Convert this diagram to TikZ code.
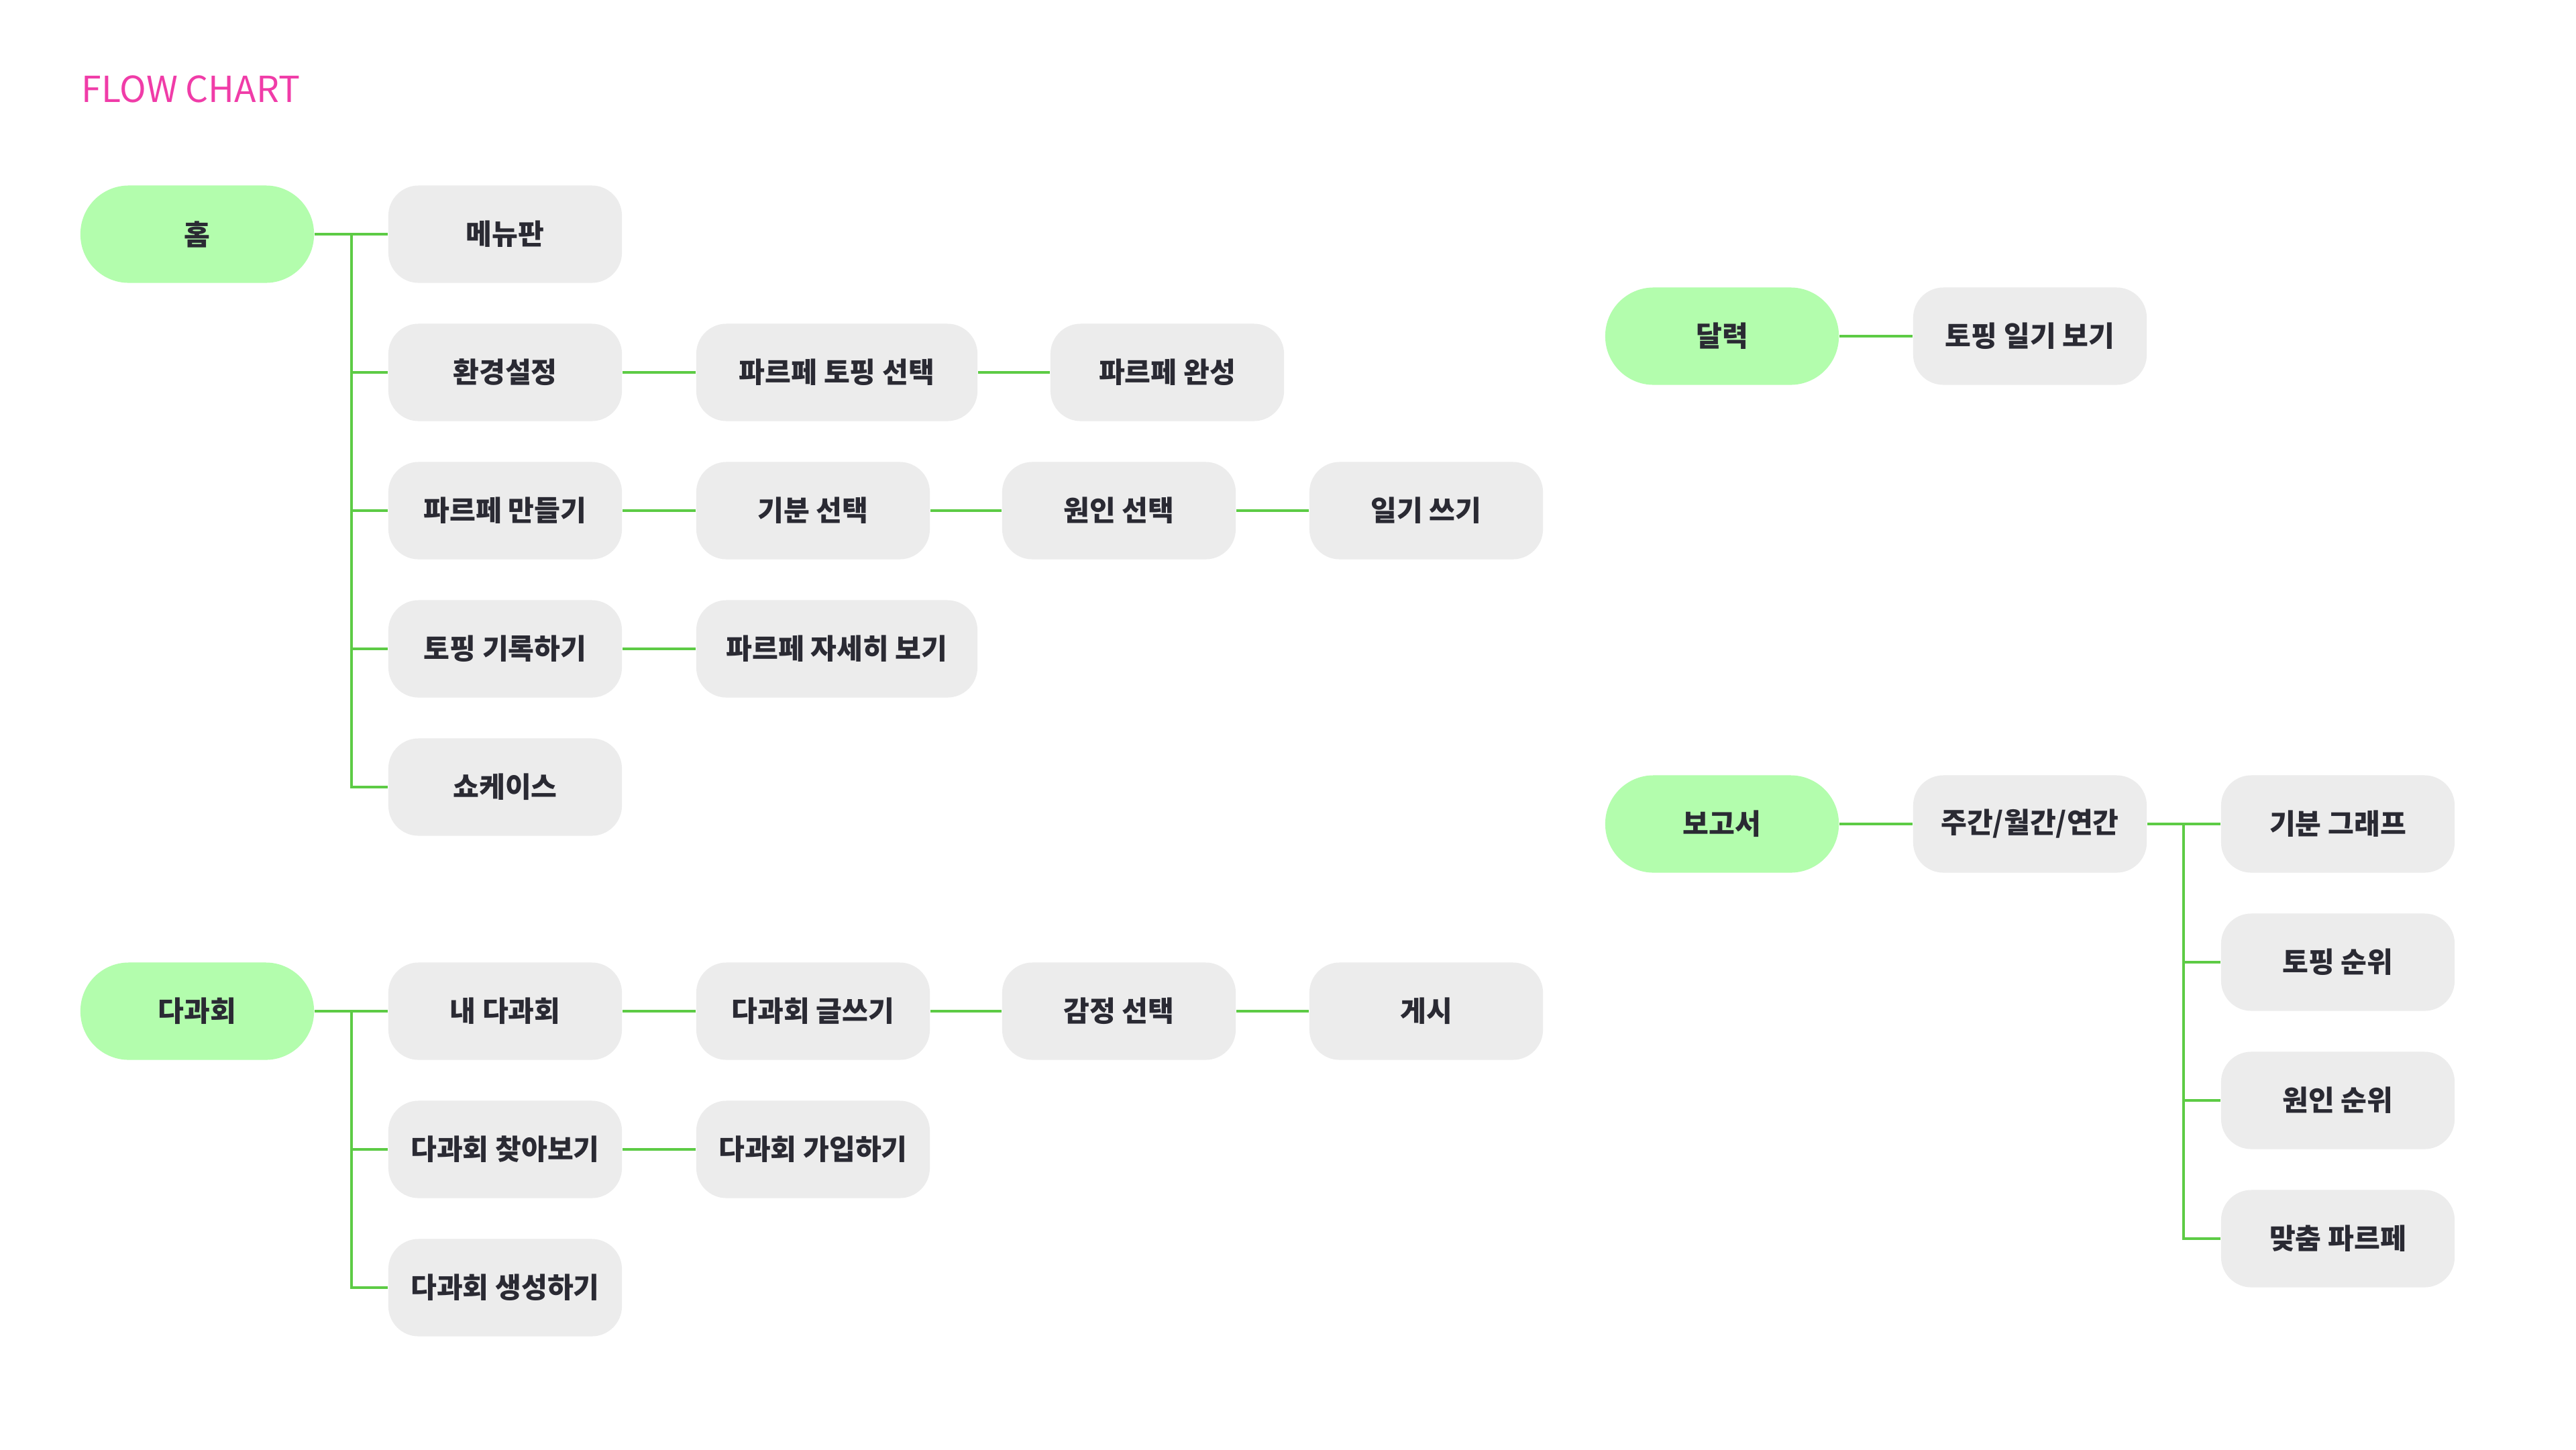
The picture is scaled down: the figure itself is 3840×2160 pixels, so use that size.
\documentclass[tikz,border=0pt]{standalone}
\usepackage{fontspec}
\setmainfont{Noto Sans CJK KR}
\newfontfamily\titlefont{Noto Sans CJK KR}
\definecolor{rootfill}{HTML}{B3FDAD}
\definecolor{leaffill}{HTML}{ECECEC}
\definecolor{linegreen}{HTML}{5DCB45}
\definecolor{textdark}{HTML}{2A2A33}
\definecolor{titlepink}{HTML}{F03CA8}
\tikzset{
  boxbase/.style={minimum width=3.48cm, minimum height=1.45cm, inner sep=0pt,
    text=textdark, font=\fontsize{12}{14}\selectfont\bfseries},
  root/.style={boxbase, fill=rootfill, rounded corners=0.72cm},
  leaf/.style={boxbase, fill=leaffill, rounded corners=0.45cm},
  wide/.style={leaf, minimum width=4.19cm},
  conn/.style={draw=linegreen, line width=0.9pt},
  titlestyle/.style={text=titlepink, font=\titlefont\fontsize{15.2}{17}\selectfont, inner sep=0pt}
}
\begin{document}
\begin{tikzpicture}[x=0.01cm,y=-0.01cm]
\useasboundingbox[fill=white] (0,0) rectangle (3840,2160);
\node[titlestyle, anchor=base west] (title) at (121,152) {FLOW CHART};
% Home tree
\node[root] (home) at (294,349) {홈};
\node[leaf] (menu) at (753,349) {메뉴판};
\node[leaf] (env) at (753,555) {환경설정};
\node[wide] (topsel) at (1247.5,555) {파르페 토핑 선택};
\node[leaf] (done) at (1740,555) {파르페 완성};
\node[leaf] (make) at (753,761) {파르페 만들기};
\node[leaf] (mood) at (1212,761) {기분 선택};
\node[leaf] (cause) at (1668,761) {원인 선택};
\node[leaf] (diary) at (2126,761) {일기 쓰기};
\node[leaf] (rec) at (753,967) {토핑 기록하기};
\node[wide] (detail) at (1247.5,967) {파르페 자세히 보기};
\node[leaf] (show) at (753,1173) {쇼케이스};
\coordinate (hb) at (524,349);
\draw[conn] (home.east) -- (menu.west);
\draw[conn] (hb) |- (env.west);
\draw[conn] (hb) |- (make.west);
\draw[conn] (hb) |- (rec.west);
\draw[conn] (hb) |- (show.west);
\draw[conn] (env.east) -- (topsel.west);
\draw[conn] (topsel.east) -- (done.west);
\draw[conn] (make.east) -- (mood.west);
\draw[conn] (mood.east) -- (cause.west);
\draw[conn] (cause.east) -- (diary.west);
\draw[conn] (rec.east) -- (detail.west);
% Tea party tree
\node[root] (tea) at (294,1507) {다과회};
\node[leaf] (my) at (753,1507) {내 다과회};
\node[leaf] (write) at (1212,1507) {다과회 글쓰기};
\node[leaf] (emo) at (1668,1507) {감정 선택};
\node[leaf] (post) at (2126,1507) {게시};
\node[leaf] (find) at (753,1713) {다과회 찾아보기};
\node[leaf] (join) at (1212,1713) {다과회 가입하기};
\node[leaf] (create) at (753,1919) {다과회 생성하기};
\coordinate (tb) at (524,1507);
\draw[conn] (tea.east) -- (my.west);
\draw[conn] (tb) |- (find.west);
\draw[conn] (tb) |- (create.west);
\draw[conn] (my.east) -- (write.west);
\draw[conn] (write.east) -- (emo.west);
\draw[conn] (emo.east) -- (post.west);
\draw[conn] (find.east) -- (join.west);
% Calendar
\node[root] (cal) at (2567,501) {달력};
\node[leaf] (tdiary) at (3026,501) {토핑 일기 보기};
\draw[conn] (cal.east) -- (tdiary.west);
% Report
\node[root] (rep) at (2567,1228) {보고서};
\node[leaf] (period) at (3026,1228) {주간/월간/연간};
\node[leaf] (graph) at (3485,1228) {기분 그래프};
\node[leaf] (trank) at (3485,1434) {토핑 순위};
\node[leaf] (crank) at (3485,1640) {원인 순위};
\node[leaf] (custom) at (3485,1846) {맞춤 파르페};
\coordinate (rb) at (3255,1228);
\draw[conn] (rep.east) -- (period.west);
\draw[conn] (period.east) -- (graph.west);
\draw[conn] (rb) |- (trank.west);
\draw[conn] (rb) |- (crank.west);
\draw[conn] (rb) |- (custom.west);
\end{tikzpicture}
\end{document}
